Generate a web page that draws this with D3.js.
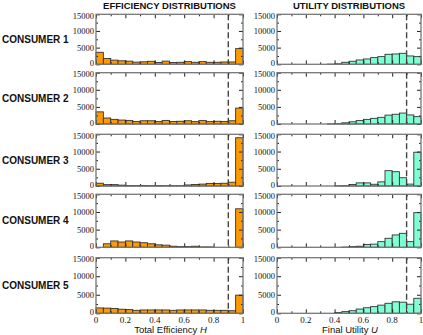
<!DOCTYPE html>
<html>
<head>
<meta charset="utf-8">
<script src="https://cdn.jsdelivr.net/npm/d3@7"></script>
<style>
body { margin: 0; background: #fff; }
svg { display: block; }
</style>
</head>
<body>
<svg id="chart" width="423" height="335"></svg>
<script>
// 20 bins of width 0.05 on [0,1]
var binEdges = d3.range(20).map(function (i) { return i * 0.05; });

var consumers = ["CONSUMER 1", "CONSUMER 2", "CONSUMER 3", "CONSUMER 4", "CONSUMER 5"];

var efficiency1 = [3600, 1750, 1250, 1050, 950, 650, 750, 900, 550, 950, 550, 600, 800, 600, 800, 600, 600, 700, 700, 4700];
var efficiency2 = [3550, 1750, 1350, 1150, 1050, 750, 950, 950, 700, 1050, 750, 800, 950, 700, 1050, 700, 800, 750, 950, 4650];
var efficiency3 = [800, 400, 400, 250, 150, 150, 150, 100, 150, 100, 100, 100, 300, 450, 550, 750, 750, 800, 1100, 14000];
var efficiency4 = [0, 1000, 1800, 1500, 1800, 1500, 1300, 1000, 700, 600, 300, 200, 200, 300, 100, 100, 0, 0, 0, 10900];
var efficiency5 = [1450, 1400, 1300, 1100, 1000, 800, 900, 900, 900, 900, 800, 900, 900, 900, 900, 800, 800, 800, 700, 4900];

var utility1 = [0, 0, 0, 0, 0, 0, 0, 50, 150, 600, 900, 1300, 1600, 2000, 2300, 3000, 3100, 3300, 2500, 2300];
var utility2 = [0, 0, 0, 0, 0, 0, 0, 50, 100, 350, 650, 1000, 1350, 1650, 1950, 2600, 2850, 3200, 2650, 2150];
var utility3 = [0, 0, 0, 0, 0, 0, 0, 0, 50, 100, 450, 900, 900, 500, 1200, 4450, 4150, 2400, 550, 9800];
var utility4 = [0, 0, 0, 0, 0, 0, 0, 0, 0, 50, 200, 300, 800, 900, 1600, 2550, 3500, 3950, 1600, 9800];
var utility5 = [0, 0, 0, 0, 0, 0, 0, 0, 200, 450, 700, 1150, 1500, 1800, 2200, 2700, 3100, 3000, 2450, 4050];

var efficiencySeries = [efficiency1, efficiency2, efficiency3, efficiency4, efficiency5];
var utilitySeries = [utility1, utility2, utility3, utility4, utility5];

var yTicks = [0, 5000, 10000, 15000];
var yMinor = [2500, 7500, 12500];
var xTicks = [0, 0.2, 0.4, 0.6, 0.8, 1];
var xMinor = [0.1, 0.3, 0.5, 0.7, 0.9];
var xTickLabels = ["0", "0.2", "0.4", "0.6", "0.8", "1"];
var cutoff = 0.9;

// layout
var rowTop = [14.3, 72.7, 134.3, 194.3, 257.7];
var rowBottom = [64.3, 124, 186, 247.3, 313.3];
var columns = [
	{ x0: 96, x1: 243, fill: "#ff9900", title: "EFFICIENCY DISTRIBUTIONS", label: "Total Efficiency ", sym: "H", series: efficiencySeries },
	{ x0: 277, x1: 421, fill: "#7fffd4", title: "UTILITY DISTRIBUTIONS", label: "Final Utility ", sym: "U", series: utilitySeries }
];

var svg = d3.select("#chart");
var serif = "'Liberation Serif', 'DejaVu Serif', serif";
var sans = "'Liberation Sans', Arial, sans-serif";

consumers.forEach(function (name, r) {
	svg.append("text")
	.attr("x", 2)
	.attr("y", (rowTop[r] + rowBottom[r]) / 2 + 3.5)
	.style("font-family", sans)
	.style("font-weight", "bold")
	.style("font-size", "10px")
	.style("fill", "#111")
	.text(name);
});

columns.forEach(function (col, c) {
	var x = d3.scaleLinear().domain([0, 1]).range([col.x0, col.x1]);

	svg.append("text")
	.attr("x", (col.x0 + col.x1) / 2)
	.attr("y", 9)
	.style("text-anchor", "middle")
	.style("font-family", sans)
	.style("font-weight", "bold")
	.style("font-size", "9.5px")
	.style("fill", "#111")
	.text(col.title);

	consumers.forEach(function (name, r) {
		var y = d3.scaleLinear().domain([0, 15000]).range([rowBottom[r], rowTop[r]]);
		var g = svg.append("g");
		var values = col.series[r];

		g.selectAll("rect.bar")
		.data(values)
		.enter()
		.append("rect")
		.attr("class", "bar")
		.attr("x", function (d, i) { return x(binEdges[i]); })
		.attr("width", function (d, i) { return x(binEdges[i] + 0.05) - x(binEdges[i]); })
		.attr("y", function (d) { return y(d); })
		.attr("height", function (d) { return y(0) - y(d); })
		.style("fill", col.fill)
		.style("stroke", "#333")
		.style("stroke-width", 0.9)
		.style("display", function (d) { return d > 0 ? null : "none"; });

		// dashed cutoff line
		g.append("line")
		.attr("x1", x(cutoff))
		.attr("x2", x(cutoff))
		.attr("y1", y(15000))
		.attr("y2", y(0))
		.style("stroke", "#444")
		.style("stroke-width", 1.4)
		.style("stroke-dasharray", "6,3");

		// inward ticks, major and minor, on all four sides
		function ticks(axis, values, size, transform) {
			var a = g.append("g")
			.attr("transform", transform)
			.call(axis.tickValues(values).tickSize(size).tickFormat(""));
			a.select(".domain").remove();
			a.selectAll("line").style("stroke", "#222").style("stroke-width", 1);
			return a;
		}
		ticks(d3.axisBottom(x), xTicks, -4, "translate(0," + y(0) + ")");
		ticks(d3.axisBottom(x), xMinor, -2, "translate(0," + y(0) + ")");
		ticks(d3.axisTop(x), xTicks, -4, "translate(0," + y(15000) + ")");
		ticks(d3.axisTop(x), xMinor, -2, "translate(0," + y(15000) + ")");
		ticks(d3.axisLeft(y), yTicks, -4, "translate(" + col.x0 + ",0)");
		ticks(d3.axisLeft(y), yMinor, -2, "translate(" + col.x0 + ",0)");
		ticks(d3.axisRight(y), yTicks, -4, "translate(" + col.x1 + ",0)");
		ticks(d3.axisRight(y), yMinor, -2, "translate(" + col.x1 + ",0)");

		g.append("rect")
		.attr("x", col.x0)
		.attr("y", y(15000))
		.attr("width", col.x1 - col.x0)
		.attr("height", y(0) - y(15000))
		.style("fill", "none")
		.style("stroke", "#777")
		.style("stroke-width", 1.3);

		// y tick labels (0 nudged up, 15000 nudged down so stacked rows don't collide)
		g.selectAll("text.ylab")
		.data(yTicks)
		.enter()
		.append("text")
		.attr("class", "ylab")
		.attr("x", col.x0 - 2)
		.attr("y", function (d) { return y(d) + (d === 0 ? 2 : d === 15000 ? 4.5 : 3); })
		.style("text-anchor", "end")
		.style("font-family", serif)
		.style("font-size", "8.5px")
		.style("fill", "#111")
		.text(function (d) { return d; });

		if (r === consumers.length - 1) {
			g.selectAll("text.xlab")
			.data(xTicks)
			.enter()
			.append("text")
			.attr("class", "xlab")
			.attr("x", function (d) { return x(d); })
			.attr("y", y(0) + 10)
			.style("text-anchor", "middle")
			.style("font-family", serif)
			.style("font-size", "9px")
			.style("fill", "#111")
			.text(function (d, i) { return xTickLabels[i]; });

			var lab = g.append("text")
			.attr("x", (col.x0 + col.x1) / 2 + 1)
			.attr("y", y(0) + 19.5)
			.style("text-anchor", "middle")
			.style("font-family", sans)
			.style("font-size", "9.5px")
			.style("fill", "#111")
			.text(col.label);
			lab.append("tspan").style("font-style", "italic").text(col.sym);
		}
	});
});
</script>
</body>
</html>
